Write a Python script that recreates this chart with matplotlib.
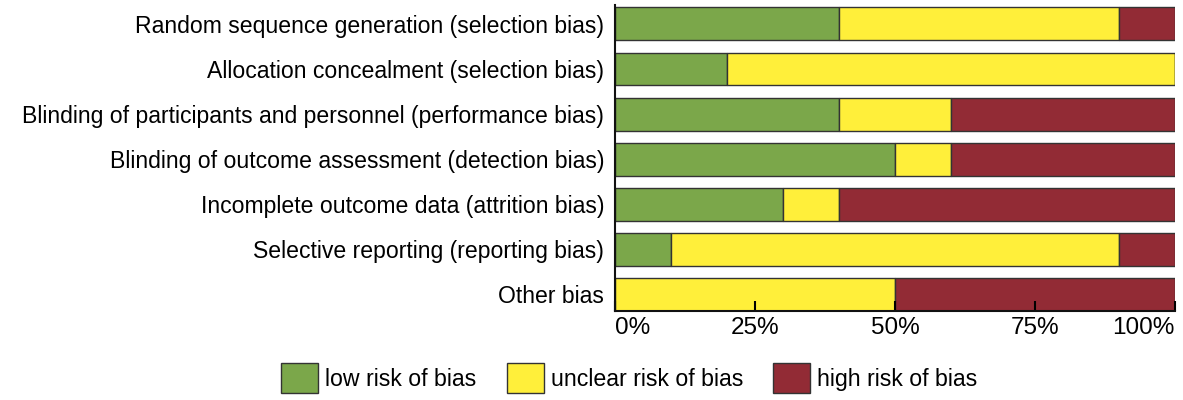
import numpy as np
import matplotlib.pyplot as plt
from matplotlib.patches import Patch

plt.rcParams['font.family'] = ['Liberation Sans', 'DejaVu Sans']

domains = ['Random sequence generation (selection bias)',
           'Allocation concealment (selection bias)',
           'Blinding of participants and personnel (performance bias)',
           'Blinding of outcome assessment (detection bias)',
           'Incomplete outcome data (attrition bias)',
           'Selective reporting (reporting bias)',
           'Other bias']
low = [40, 20, 40, 50, 30, 10, 0]
unclear = [50, 80, 20, 10, 10, 80, 50]
high = [10, 0, 40, 40, 60, 10, 50]

c_low = '#7BA74A'
c_unc = '#FFEF3A'
c_high = '#922B35'
edge = '#333333'

fig = plt.figure(figsize=(11.83, 4), dpi=100)
ax = fig.add_axes([0.52, 0.2225, 0.473, 0.765])

y = np.arange(len(domains))
low = np.array(low)
unclear = np.array(unclear)
high = np.array(high)
h = 0.73
ax.barh(y, low, height=h, color=c_low, edgecolor=edge, linewidth=1)
ax.barh(y, unclear, left=low, height=h, color=c_unc, edgecolor=edge, linewidth=1)
ax.barh(y, high, left=low + unclear, height=h, color=c_high, edgecolor=edge, linewidth=1)

ax.set_xlim(0, 100)
ax.set_ylim(6.37, -0.42)
ax.set_yticks(y)
ax.set_yticklabels(domains, fontsize=16.6)
ax.tick_params(axis='y', length=0, pad=8)
ax.set_xticks([0, 25, 50, 75, 100])
ax.set_xticklabels(['0%', '25%', '50%', '75%', '100%'], fontsize=17.5)
xl = ax.get_xticklabels()
xl[0].set_ha('left')
xl[-1].set_ha('right')
ax.tick_params(axis='x', direction='in', length=7, width=1.5, pad=4)
for s in ['top', 'right']:
    ax.spines[s].set_visible(False)
for s in ['left', 'bottom']:
    ax.spines[s].set_linewidth(1.5)
    ax.spines[s].set_color('#111111')

handles = [Patch(facecolor=c_low, edgecolor=edge, label='low risk of bias'),
           Patch(facecolor=c_unc, edgecolor=edge, label='unclear risk of bias'),
           Patch(facecolor=c_high, edgecolor=edge, label='high risk of bias')]
fig.legend(handles=handles, loc='center', bbox_to_anchor=(0.532, 0.055), ncol=3,
           frameon=False, fontsize=16.7, handlelength=1.6, handleheight=1.6,
           handletextpad=0.3, columnspacing=1.3)

fig.savefig('out.png', dpi=100)
